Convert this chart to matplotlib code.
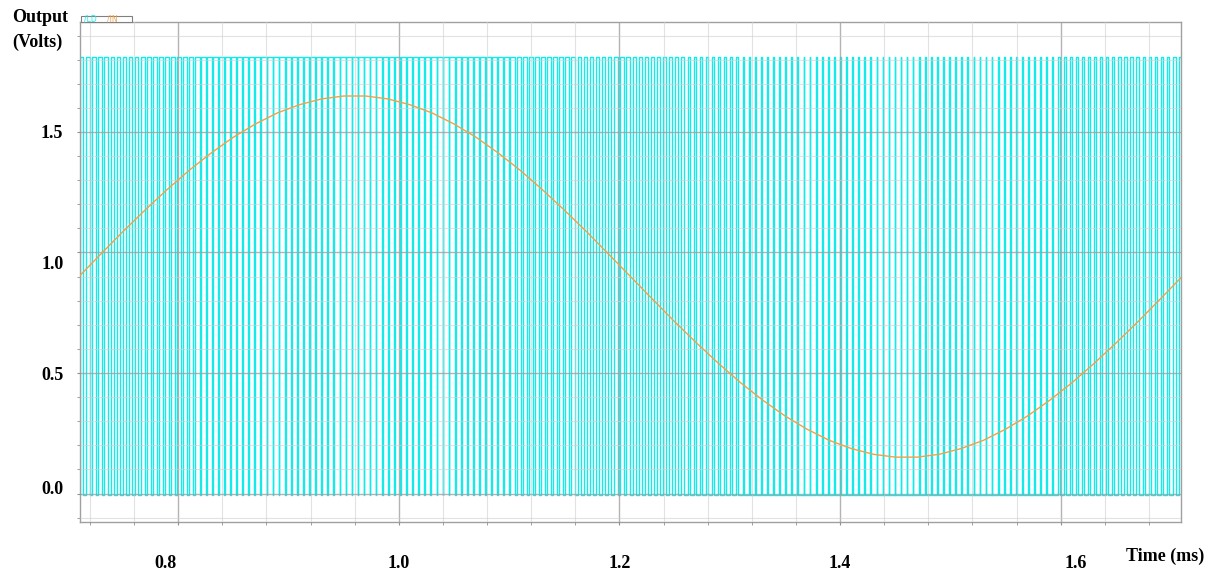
import matplotlib
matplotlib.use("Agg")
import matplotlib.pyplot as plt
import matplotlib.ticker as mticker
import matplotlib.transforms as mtransforms
from matplotlib.patches import Rectangle
import numpy as np

# reference input /IN, every 0.02 ms
t_in = [0.71, 0.73, 0.75, 0.77, 0.79, 0.81, 0.83, 0.85, 0.87, 0.89,
        0.91, 0.93, 0.95, 0.97, 0.99, 1.01, 1.03, 1.05, 1.07, 1.09,
        1.11, 1.13, 1.15, 1.17, 1.19, 1.21, 1.23, 1.25, 1.27, 1.29,
        1.31, 1.33, 1.35, 1.37, 1.39, 1.41, 1.43, 1.45, 1.47, 1.49,
        1.51, 1.53, 1.55, 1.57, 1.59, 1.61, 1.63, 1.65, 1.67, 1.69, 1.71]
v_in = [0.900, 0.994, 1.087, 1.176, 1.261, 1.341, 1.413, 1.478, 1.533, 1.579,
        1.613, 1.637, 1.649, 1.649, 1.637, 1.613, 1.579, 1.533, 1.478, 1.413,
        1.341, 1.261, 1.176, 1.087, 0.994, 0.900, 0.806, 0.713, 0.624, 0.539,
        0.459, 0.387, 0.322, 0.267, 0.221, 0.187, 0.163, 0.151, 0.151, 0.163,
        0.187, 0.221, 0.267, 0.322, 0.387, 0.459, 0.539, 0.624, 0.713, 0.806, 0.900]

# PWM output /LD levels and switching period (ms)
ld_low = -0.005
ld_high = 1.81
pwm_period = 0.0055

x_ticks = [0.8, 1.0, 1.2, 1.4, 1.6]
x_labels = ["0.8", "1.0", "1.2", "1.4", "1.6"]
y_ticks = [0.0, 0.5, 1.0, 1.5]
y_labels = ["0.0", "0.5", "1.0", "1.5"]

# build the pulse train: duty of each period follows /IN
starts = np.arange(t_in[0], t_in[-1], pwm_period)
tt, vv = [t_in[0]], [ld_low]
for s in starts:
    duty = np.interp(s + pwm_period / 2, t_in, v_in) / 1.8
    half = (1 - duty) * pwm_period / 2
    tt += [s + half, s + half, s + pwm_period - half, s + pwm_period - half]
    vv += [ld_low, ld_high, ld_high, ld_low]

font = "Liberation Serif"
cyan = "#14eaea"
orange = "#f2a04a"

fig = plt.figure(figsize=(12.19, 5.70), dpi=100)
ax = fig.add_axes([80 / 1219, 48 / 570, 1101 / 1219, 500 / 570])

ax.plot(tt, vv, color=cyan, lw=1.0, zorder=2)
ax.plot(t_in, v_in, color=orange, lw=1.0, zorder=3)

ax.set_xlim(0.711, 1.709)
ax.set_ylim(-0.118, 1.956)

ax.xaxis.set_major_locator(mticker.FixedLocator(x_ticks))
ax.xaxis.set_minor_locator(mticker.MultipleLocator(0.04))
ax.yaxis.set_major_locator(mticker.FixedLocator(y_ticks))
ax.yaxis.set_minor_locator(mticker.MultipleLocator(0.1))
ax.set_xticklabels(x_labels)
ax.set_yticklabels(y_labels)

ax.set_axisbelow(False)
ax.grid(which="major", color="#a0a0a0", lw=1.0, alpha=0.8)
ax.grid(which="minor", color="#d0d0d0", lw=0.8, alpha=0.6)

ax.tick_params(which="both", direction="out", length=2, color="#909090")
ax.tick_params(axis="x", pad=22)
ax.tick_params(axis="y", pad=10)
for lab in ax.get_xticklabels() + ax.get_yticklabels():
    lab.set_fontfamily(font)
    lab.set_fontweight("bold")
    lab.set_fontsize(13)

# labels in the source sit a little off their grid lines
x_shift = {"0.8": -13, "1.6": 15}
y_shift = {"1.0": -10, "0.0": 6}
for lab in ax.get_xticklabels():
    dx = x_shift.get(lab.get_text(), 0)
    lab.set_transform(lab.get_transform() + mtransforms.ScaledTranslation(dx / 100, 0, fig.dpi_scale_trans))
for lab in ax.get_yticklabels():
    dy = y_shift.get(lab.get_text(), 0)
    lab.set_transform(lab.get_transform() + mtransforms.ScaledTranslation(0, dy / 100, fig.dpi_scale_trans))

for sp in ax.spines.values():
    sp.set_color("#a0a0a0")
    sp.set_linewidth(1.0)

fig.text(12 / 1219, 1 - 18 / 570, "Output", family=font, weight="bold", fontsize=13, va="center")
fig.text(12 / 1219, 1 - 42 / 570, "(Volts)", family=font, weight="bold", fontsize=13, va="center")
fig.text(1165 / 1219, 1 - 556 / 570, "Time (ms)", family=font, weight="bold", fontsize=13,
         ha="center", va="center")

# tiny legend tab on top of the frame
fig.patches.append(Rectangle((81 / 1219, 1 - 22 / 570), 51 / 1219, 6 / 570, transform=fig.transFigure,
                             facecolor="white", edgecolor="#808080", lw=0.8))
fig.text(84 / 1219, 1 - 19.5 / 570, "/LD", color=cyan, fontsize=5.5, va="center")
fig.text(107 / 1219, 1 - 19.5 / 570, "/IN", color=orange, fontsize=5.5, va="center")

fig.savefig("out.png", dpi=100)
